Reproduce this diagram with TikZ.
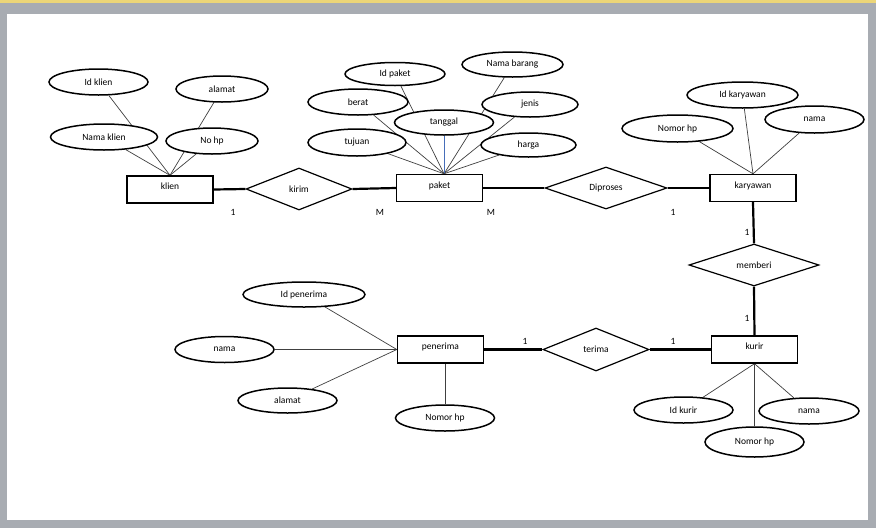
\documentclass[tikz,border=0pt]{standalone}
\usepackage{fontspec}
\setmainfont{Carlito}
\usepackage{xcolor}
\usepackage{tikz}
\usetikzlibrary{calc}
\usetikzlibrary{arrows.meta}
\usetikzlibrary{shapes}
\usetikzlibrary{positioning}
\usetikzlibrary{shapes.geometric}
\usetikzlibrary{backgrounds}
\definecolor{frame}{RGB}{168,172,178}
\definecolor{topline}{RGB}{236,214,120}
\definecolor{linkblue}{RGB}{70,110,185}
\tikzstyle{entity} = [rectangle, draw=black, line width=1.4pt, fill=white, minimum width=86pt, minimum height=27pt, inner sep=0pt, text height=7pt, text depth=7pt]
\tikzstyle{attr} = [ellipse, draw=black, line width=1.5pt, fill=white, minimum height=26pt, inner sep=0pt]
\tikzstyle{rel} = [diamond, draw=black, line width=1.2pt, fill=white, minimum width=106pt, minimum height=42pt, inner sep=0pt]
\tikzstyle{link} = [-, draw=black!75, line width=0.7pt]
\tikzstyle{tie} = [-, draw=black, line width=2.2pt]
\tikzstyle{card} = [inner sep=0pt]

\begin{document}
\begin{tikzpicture}[x=1pt, y=-1pt, font=\fontsize{9.5}{11}\selectfont]
\useasboundingbox (0,0) rectangle (876,528);
% entities
\node [entity] (klien) at (170,189.5) {klien};
\node [entity] (paket) at (439.5,188) {paket};
\node [entity] (karyawan) at (753,188) {karyawan};
\node [entity] (penerima) at (440.5,349.5) {penerima};
\node [entity] (kurir) at (754.5,349.5) {kurir};
% relations
\node [rel] (kirim) at (299,189) {kirim};
\node [rel, minimum width=122pt] (diproses) at (606,188) {Diproses};
\node [rel, minimum width=130pt] (memberi) at (754,265) {memberi};
\node [rel, minimum height=43pt] (terima) at (596,349.5) {terima};
% attributes klien
\node [attr, minimum width=99pt] (idklien) at (98.5,82) {Id klien};
\node [attr, minimum width=92pt] (alamatklien) at (222,89) {alamat};
\node [attr, minimum width=107pt] (namaklien) at (104,137) {Nama klien};
\node [attr, minimum width=92pt] (nohpklien) at (212,141) {No hp};
% attributes paket
\node [attr, minimum width=100pt, minimum height=23pt] (idpaket) at (395,74) {Id paket};
\node [attr, minimum width=101pt, minimum height=25pt] (namabarang) at (512.5,64.5) {Nama barang};
\node [attr, minimum width=100pt] (berat) at (358,102) {berat};
\node [attr, minimum width=96pt, minimum height=25pt] (jenis) at (530,104.5) {jenis};
\node [attr, minimum width=99pt, minimum height=25pt] (tanggal) at (444,122.5) {tanggal};
\node [attr, minimum width=98pt, minimum height=27pt] (tujuan) at (357,142.5) {tujuan};
\node [attr, minimum width=95pt, minimum height=24pt] (harga) at (528.5,145) {harga};
% attributes karyawan
\node [attr, minimum width=111pt] (idkaryawan) at (742.5,95) {Id karyawan};
\node [attr, minimum width=111pt, minimum height=27pt] (nomorhpkaryawan) at (677.5,128.5) {Nomor hp};
\node [attr, minimum width=99pt, minimum height=27pt] (namakaryawan) at (814.5,119.5) {nama};
% attributes penerima
\node [attr, minimum width=122pt, minimum height=25pt] (idpenerima) at (304,294.5) {Id penerima};
\node [attr, minimum width=99pt] (namapenerima) at (224.5,349.5) {nama};
\node [attr, minimum width=99pt, minimum height=25pt] (alamatpenerima) at (287.5,400.5) {alamat};
\node [attr, minimum width=99pt] (nomorhppenerima) at (445,418) {Nomor hp};
% attributes kurir
\node [attr, minimum width=99pt] (idkurir) at (683.5,410) {Id kurir};
\node [attr, minimum width=100pt] (namakurir) at (809,411) {nama};
\node [attr, minimum width=99pt, minimum height=30pt] (nomorhpkurir) at (754.5,442) {Nomor hp};
% cardinality
\node [card] (klienOne) at (233,212) {1};
\node [card] (kirimM) at (380,212) {M};
\node [card] (prosesM) at (491,212) {M};
\node [card] (karyawanOne) at (673,212) {1};
\node [card] (memberiTop) at (747,232) {1};
\node [card] (memberiBottom) at (747,318) {1};
\node [card] (penerimaOne) at (525,341) {1};
\node [card] (kurirOne) at (673,341) {1};
% relation lines
\draw [tie] (klien.east) -- (kirim.west);
\draw [tie] (kirim.east) -- (paket.west);
\draw [tie] (paket.east) -- (diproses.west);
\draw [tie] (diproses.east) -- (karyawan.west);
\draw [tie] (karyawan.south) -- (memberi.north);
\draw [tie] (memberi.south) -- (kurir.north);
\draw [tie] (penerima.east) -- (terima.west);
\draw [tie] (terima.east) -- (kurir.west);

\begin{pgfonlayer}{background}
\fill [frame] (0,0) rectangle (876,528);
\fill [topline] (0,0) rectangle (876,3);
\fill [white] (7,14) rectangle (868,520);
% attribute lines
\draw [link] (idklien) -- (klien.north);
\draw [link] (alamatklien) -- (klien.north);
\draw [link] (namaklien) -- (klien.north);
\draw [link] (nohpklien) -- (klien.north);
\draw [link] (idpaket) -- ([xshift=4.5]paket.north);
\draw [link] (namabarang) -- ([xshift=4.5]paket.north);
\draw [link] (berat) -- ([xshift=4.5]paket.north);
\draw [link] (jenis) -- ([xshift=4.5]paket.north);
\draw [link, draw=linkblue] (tanggal) -- ([xshift=4.5]paket.north);
\draw [link] (tujuan) -- ([xshift=4.5]paket.north);
\draw [link] (harga) -- ([xshift=4.5]paket.north);
\draw [link] (idkaryawan) -- (karyawan.north);
\draw [link] (nomorhpkaryawan) -- (karyawan.north);
\draw [link] (namakaryawan) -- (karyawan.north);
\draw [link] (idpenerima) -- (penerima.west);
\draw [link] (namapenerima) -- (penerima.west);
\draw [link] (alamatpenerima) -- (penerima.west);
\draw [link] (nomorhppenerima) -- ([xshift=4.5]penerima.south);
\draw [link] (idkurir) -- (kurir.south);
\draw [link] (namakurir) -- (kurir.south);
\draw [link] (nomorhpkurir) -- (kurir.south);
\end{pgfonlayer}
\end{tikzpicture}
\end{document}
